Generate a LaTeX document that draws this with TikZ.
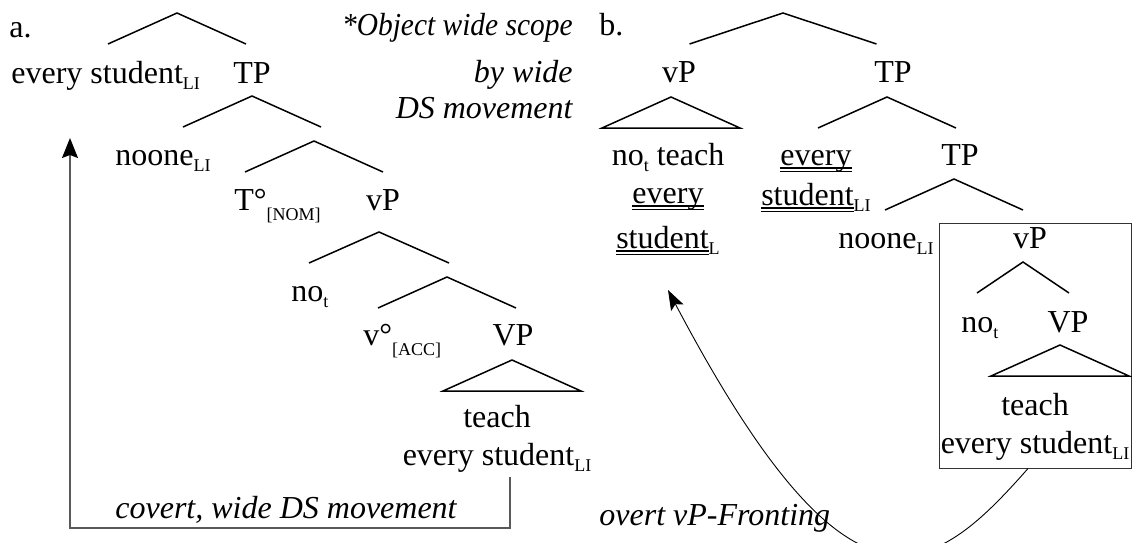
\documentclass[tikz,border=0pt]{standalone}
\usepackage{fontspec}
\setmainfont{Liberation Serif}
\usepackage{tikz}
\usetikzlibrary{arrows.meta}
\usetikzlibrary{calc}
\usetikzlibrary{fit}
\newcommand{\lo}[1]{\raisebox{-3pt}{\fontsize{9}{9}\selectfont #1}}
\newcommand{\loo}[1]{\raisebox{-5pt}{\fontsize{9}{9}\selectfont #1}}
\newcommand{\uu}[1]{\vtop{\hbox{\raisebox{0pt}[\height][0pt]{#1}}%
  \kern1.1pt\hrule height0.75pt\kern1pt\hrule height0.75pt}}
\newcommand{\branch}[2]{\draw[br] (#1) ++(-#2,31) -- (#1) -- ++(#2,31);}
\newcommand{\roof}[1]{\draw[br] (#1) -- ++(-69,31) -- ++(138,0) -- cycle;}
\tikzset{%
  w/.style = {inner sep=0pt, font=\fontsize{16}{19}\selectfont},
  wl/.style = {w, anchor=base west},
  wc/.style = {w, anchor=base},
  note/.style = {w, font=\fontsize{16}{19}\selectfont\itshape},
  br/.style = {line width=0.75pt, line join=miter},
  covert/.style = {-{Stealth[length=10pt,width=8pt,inset=1.5pt,color=black]},
        draw=black!65, line width=0.65pt},
  overt/.style = {-{Stealth[length=10pt,width=7pt,inset=2pt]},
        line width=0.45pt},
  vpbox/.style = {draw=black!80, line width=0.5pt, inner sep=0pt}
}

\begin{document}
\begin{tikzpicture}[x=0.5pt, y=-0.5pt]
  \clip (0,0) rectangle (1132,542);
  % a.
  \node[wl] (alab) at (9,37) {a.};
  \node[note, anchor=base east, align=right] (anote) at (573,118)
        {\scalebox{0.92}[1]{*Object wide scope}\\[4.5pt]by wide\\[-1pt]DS movement};
  \coordinate (aroot) at (177,13);
  \node[wl] (aspec) at (11,83) {every student\lo{LI}};
  \node[wc] (atp) at (252,83) {TP};
  \coordinate (atpbr) at (252,96);
  \node[wl] (asubj) at (115,165) {noone\lo{LI}};
  \coordinate (atbar) at (314,141);
  \node[wl] (at) at (234,210) {T°\loo{[NOM]}};
  \node[wc] (avp) at (383,210) {vP};
  \coordinate (avpbr) at (379,232);
  \node[wl] (aneg) at (291,301) {no\lo{t}};
  \coordinate (avbar) at (447,277);
  \node[wl] (av) at (363,345) {v°\loo{[ACC]}};
  \node[wc] (avvp) at (513,345) {VP};
  \coordinate (avproof) at (512,360);
  \node[wc, align=center] (aleaf) at (497,465) {teach\\every student\lo{LI}};
  \branch{aroot}{69}
  \branch{atpbr}{69}
  \branch{atbar}{69}
  \branch{avpbr}{70}
  \branch{avbar}{69}
  \roof{avproof}
  \coordinate (covbend) at (510,528);
  \coordinate (covtip) at (70,138);
  \draw[covert] ($(aleaf.south -| covbend)+(0,5)$) -- (covbend) -| (covtip);
  \node[note, anchor=base west] (acov) at (115,518) {covert, wide DS movement};
  % b.
  \node[wl] (blab) at (599,35) {b.};
  \coordinate (broot) at (783,13);
  \node[wc] (bvp) at (679,82) {vP};
  \node[wc] (btp) at (893,82) {TP};
  \coordinate (bvproof) at (671,97);
  \coordinate (btpbr) at (887,97);
  \node[wc, align=center] (bfront) at (668,248)
        {no\lo{t} teach\\\uu{every}\\[3.5pt]\uu{student}\lo{L}};
  \node[wc, align=center] (bspec) at (816,205)
        {\uu{every}\\[1pt]\uu{student}\lo{LI}};
  \node[wc] (btp2) at (960,165) {TP};
  \coordinate (btp2br) at (954,179);
  \node[wl] (bsubj) at (838,248) {noone\lo{LI}};
  \node[vpbox, fit={(939,223) (1131,468)}] (frontbox) {};
  \node[wc] (bvp2) at (1030,248) {vP};
  \coordinate (bvp2br) at (1023,262);
  \node[wl] (bneg) at (961,332) {no\lo{t}};
  \node[wc] (bvvp) at (1068,332) {VP};
  \coordinate (bvproof2) at (1060,345);
  \node[wc, align=center] (bleaf) at (1035,453) {teach\\every student\lo{LI}};
  \branch{broot}{93.5}
  \branch{btpbr}{69}
  \branch{btp2br}{69}
  \branch{bvp2br}{46}
  \roof{bvproof}
  \roof{bvproof2}
  \coordinate (fronttip) at (668,290);
  \draw[overt] ($(frontbox.south)+(-7,0)$) .. controls (930,580) and (850,635) .. (fronttip);
  \node[note, anchor=base west] (bover) at (599,525) {overt vP-Fronting};
\end{tikzpicture}
\end{document}
